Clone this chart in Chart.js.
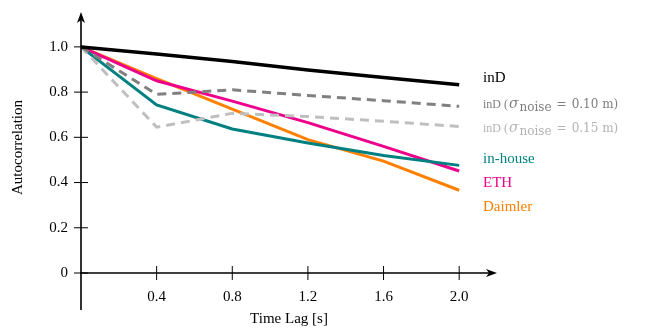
<!DOCTYPE html>
<html>
<head>
<meta charset="utf-8">
<script src="https://cdn.jsdelivr.net/npm/chart.js@4.4.0/dist/chart.umd.min.js"></script>
<style>
  html, body { margin: 0; padding: 0; background: #fff; }
  #wrap { width: 662px; height: 331px; }
</style>
</head>
<body>
<div id="wrap"><canvas id="chart" width="662" height="331"></canvas></div>
<script>
// time lags [s]
const lags = [0, 0.4, 0.8, 1.2, 1.6, 2.0];
// autocorrelation per dataset
const inD = [1.0, 0.968, 0.935, 0.898, 0.865, 0.833];
const inD010 = [1.0, 0.79, 0.81, 0.785, 0.762, 0.737];
const inD015 = [1.0, 0.645, 0.706, 0.692, 0.671, 0.648];
const inHouse = [1.0, 0.743, 0.637, 0.575, 0.52, 0.476];
const eth = [1.0, 0.85, 0.76, 0.665, 0.56, 0.451];
const daimler = [1.0, 0.86, 0.725, 0.59, 0.495, 0.366];
const xTicks = [0.4, 0.8, 1.2, 1.6, 2.0];
const yTicks = [0, 0.2, 0.4, 0.6, 0.8, 1.0];

const serif = '"Liberation Serif", "DejaVu Serif", serif';
const mathFont = '"DejaVu Serif", serif';

function pts(vals) {
    return lags.map((x, i) => ({ x: x, y: vals[i] }));
}

function series(label, vals, color, dash, width) {
    return {
        label: label,
        data: pts(vals),
        borderColor: color,
        backgroundColor: color,
        borderWidth: width || 3,
        borderDash: dash || [],
        pointRadius: 0,
        tension: 0,
        fill: false
    };
}

// axis lines with arrows, tick marks and the labels on the right
const axesPlugin = {
    id: 'axes',
    afterDraw(chart) {
        const ctx = chart.ctx;
        const xs = chart.scales.x, ys = chart.scales.y;
        const x0 = xs.getPixelForValue(0);
        const y0 = ys.getPixelForValue(0);
        const top = 12;
        const right = 497;
        ctx.save();
        ctx.strokeStyle = '#000';
        ctx.fillStyle = '#000';
        ctx.lineWidth = 1.6;
        ctx.beginPath();
        ctx.moveTo(x0, 310);
        ctx.lineTo(x0, top + 8);
        ctx.moveTo(x0 - 1, y0);
        ctx.lineTo(right - 8, y0);
        ctx.stroke();
        // arrow heads
        ctx.beginPath();
        ctx.moveTo(x0, top);
        ctx.lineTo(x0 - 4, top + 11);
        ctx.lineTo(x0, top + 8);
        ctx.lineTo(x0 + 4, top + 11);
        ctx.closePath();
        ctx.fill();
        ctx.beginPath();
        ctx.moveTo(right, y0);
        ctx.lineTo(right - 11, y0 - 4);
        ctx.lineTo(right - 8, y0);
        ctx.lineTo(right - 11, y0 + 4);
        ctx.closePath();
        ctx.fill();
        // tick marks
        ctx.lineWidth = 1;
        ctx.beginPath();
        xTicks.forEach(v => {
            const px = xs.getPixelForValue(v);
            ctx.moveTo(px, y0 - 7);
            ctx.lineTo(px, y0 + 7);
        });
        yTicks.forEach(v => {
            const py = ys.getPixelForValue(v);
            ctx.moveTo(x0 - 7, py);
            ctx.lineTo(x0 + 7, py);
        });
        ctx.stroke();

        // labels
        ctx.textBaseline = 'alphabetic';
        ctx.textAlign = 'left';
        const lx = 483;
        ctx.font = '15px ' + serif;
        ctx.fillStyle = '#000';
        ctx.fillText('inD', lx, 82);
        noiseLabel(ctx, lx, 108, '0.10', '#7f7f7f');
        noiseLabel(ctx, lx, 132, '0.15', '#b3b3b3');
        ctx.font = '15px ' + serif;
        ctx.fillStyle = '#008080';
        ctx.fillText('in-house', lx, 163);
        ctx.fillStyle = '#ec008c';
        ctx.fillText('ETH', lx, 187);
        ctx.fillStyle = '#ff8000';
        ctx.fillText('Daimler', lx, 211);
        ctx.restore();
    }
};

function noiseLabel(ctx, x, y, val, color) {
    ctx.fillStyle = color;
    ctx.font = '12px ' + serif;
    ctx.fillText('inD (', x, y);
    x += ctx.measureText('inD (').width + 1;
    ctx.font = 'italic 14px ' + mathFont;
    ctx.fillText('σ', x, y);
    x += ctx.measureText('σ').width + 1;
    ctx.font = '12px ' + mathFont;
    ctx.fillText('noise', x, y + 3);
    x += ctx.measureText('noise').width + 5;
    ctx.fillText('=', x, y);
    x += ctx.measureText('=').width + 5;
    ctx.fillText(val + ' m)', x, y);
}

new Chart(document.getElementById('chart'), {
    type: 'line',
    data: {
        datasets: [
            series('inD', inD, '#000000', null, 3.5),
            series('inD (sigma noise = 0.10 m)', inD010, '#808080', [9, 6]),
            series('inD (sigma noise = 0.15 m)', inD015, '#bfbfbf', [9, 6]),
            series('in-house', inHouse, '#008080'),
            series('ETH', eth, '#ec008c'),
            series('Daimler', daimler, '#ff8000')
        ]
    },
    options: {
        responsive: false,
        animation: false,
        layout: { padding: { top: 3, right: 165, left: 0, bottom: 0 } },
        plugins: {
            legend: { display: false },
            tooltip: { enabled: false }
        },
        scales: {
            x: {
                type: 'linear',
                min: 0,
                max: 2.2,
                grid: { display: false, drawTicks: false },
                border: { display: false },
                afterBuildTicks: s => { s.ticks = xTicks.map(v => ({ value: v })); },
                afterFit: s => { s.height = 58; },
                ticks: {
                    padding: 15,
                    color: '#000',
                    font: { family: serif, size: 15 },
                    maxRotation: 0,
                    callback: v => v.toFixed(1)
                },
                title: {
                    display: true,
                    text: 'Time Lag [s]',
                    color: '#000',
                    font: { family: serif, size: 15 },
                    padding: { top: 0, bottom: 3 }
                }
            },
            y: {
                type: 'linear',
                min: 0,
                max: 1.11,
                grid: { display: false, drawTicks: false },
                border: { display: false },
                afterBuildTicks: s => { s.ticks = yTicks.map(v => ({ value: v })); },
                afterFit: s => { s.width = 81; },
                ticks: {
                    padding: 13,
                    color: '#000',
                    font: { family: serif, size: 15 },
                    callback: v => v === 0 ? '0' : v.toFixed(1)
                },
                title: {
                    display: true,
                    text: 'Autocorrelation',
                    color: '#000',
                    font: { family: serif, size: 15 },
                    padding: { top: 9, bottom: 0 }
                }
            }
        }
    },
    plugins: [axesPlugin]
});
</script>
</body>
</html>
